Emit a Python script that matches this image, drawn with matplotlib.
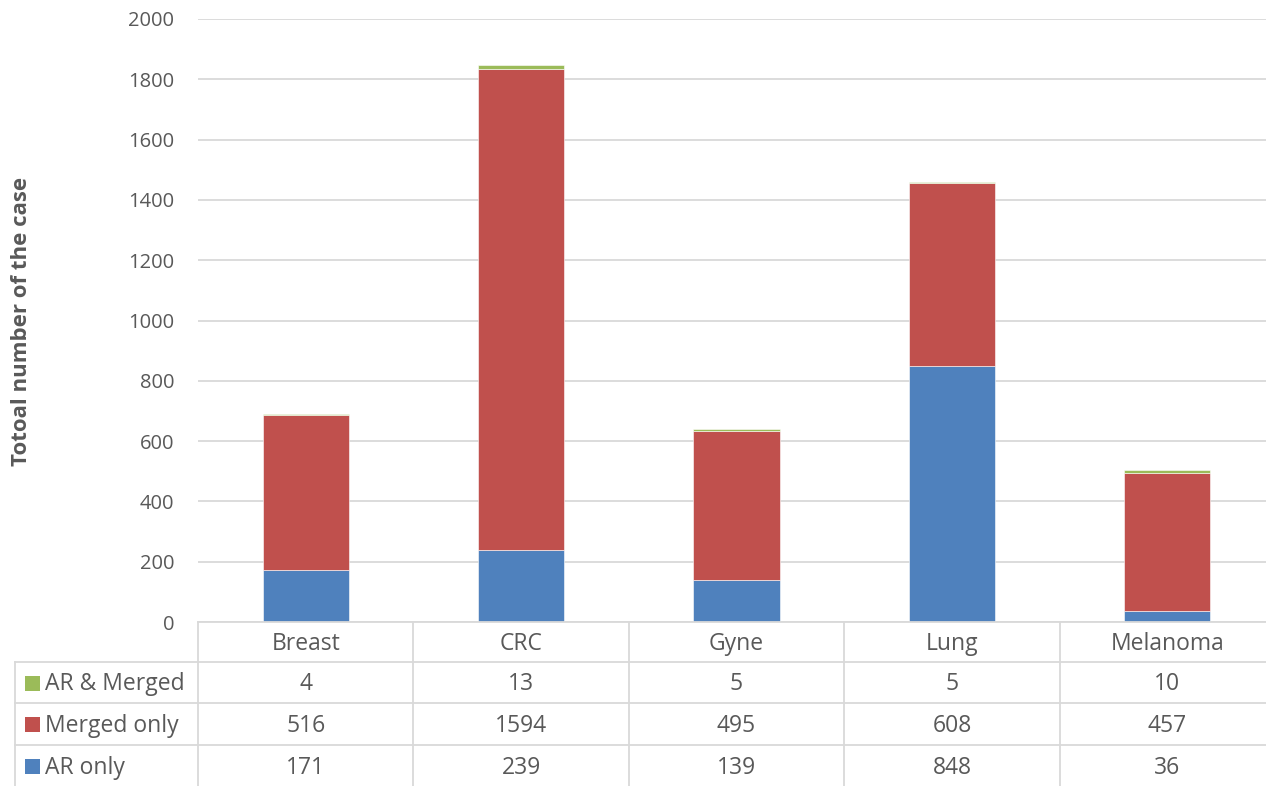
import matplotlib
matplotlib.use("Agg")
import matplotlib.pyplot as plt
import matplotlib.transforms as mtransforms
from matplotlib.lines import Line2D
from matplotlib.patches import Rectangle
import numpy as np

plt.rcParams['font.family'] = ['Open Sans', 'DejaVu Sans']

categories = ["Breast", "CRC", "Gyne", "Lung", "Melanoma"]
ar_only = [171, 239, 139, 848, 36]
merged_only = [516, 1594, 495, 608, 457]
ar_and_merged = [4, 13, 5, 5, 10]

series_names = ["AR & Merged", "Merged only", "AR only"]
colors = {"AR only": "#4f81bd", "Merged only": "#c0504d", "AR & Merged": "#9bbb59"}
text_color = "#595959"
grid_color = "#d9d9d9"
fs_table = 16.5
fs_tick = 14.5

W, H = 1266, 786
fig = plt.figure(figsize=(W / 100, H / 100), dpi=100)


def fx(x):
    return x / W


def fy(y):
    return 1 - y / H


# plot area in pixel coordinates
left, right, top, bottom = 198, 1275, 19, 622
ax = fig.add_axes([fx(left), fy(bottom), fx(right) - fx(left), fy(top) - fy(bottom)])

x = np.arange(len(categories))
bw = 0.4
ax.bar(x, ar_only, bw, color=colors["AR only"], edgecolor="white", linewidth=0.4, zorder=3)
ax.bar(x, merged_only, bw, bottom=ar_only, color=colors["Merged only"],
       edgecolor="white", linewidth=0.4, zorder=3)
base2 = np.array(ar_only) + np.array(merged_only)
ax.bar(x, ar_and_merged, bw, bottom=base2, color=colors["AR & Merged"],
       edgecolor="white", linewidth=0.4, zorder=3)

ax.set_xlim(-0.5, len(categories) - 0.5)
ax.set_ylim(0, 2000)
ax.set_yticks(range(0, 2001, 200))
ax.yaxis.grid(True, color=grid_color, linewidth=1.3, zorder=0)
ax.set_xticks([])
for s in ax.spines.values():
    s.set_visible(False)
ax.tick_params(axis="y", length=0, pad=17, labelsize=fs_tick, labelcolor=text_color)

fig.text(fx(22), fy(321), "Totoal number of the case", rotation=90, ha="center", va="center",
         fontsize=16, fontweight="bold", color=text_color)

# data table under the bars
blend = mtransforms.blended_transform_factory(ax.transData, fig.transFigure)
row_lines = [622, 662, 703, 745, 786]
row_mid = [(row_lines[i] + row_lines[i + 1]) / 2 + 2 for i in range(4)]
lw = 1.3

# horizontal lines
fig.add_artist(Line2D([fx(left), 1.05], [fy(622)] * 2, color=grid_color, lw=lw))
for yy in row_lines[1:4]:
    fig.add_artist(Line2D([fx(15), 1.05], [fy(yy)] * 2, color=grid_color, lw=lw))

# vertical lines
fig.add_artist(Line2D([fx(15)] * 2, [fy(662), fy(786)], color=grid_color, lw=lw))
for i in range(len(categories) + 1):
    fig.add_artist(Line2D([i - 0.5] * 2, [fy(622), fy(786)], transform=blend,
                          color=grid_color, lw=lw))

# header row with category names
for i, cat in enumerate(categories):
    fig.text(i, fy(row_mid[0]), cat, transform=blend, ha="center", va="center",
             fontsize=fs_table, color=text_color)

rows = {"AR & Merged": ar_and_merged, "Merged only": merged_only, "AR only": ar_only}
for r, name in enumerate(series_names):
    ym = row_mid[r + 1]
    fig.add_artist(Rectangle((fx(25), fy(ym + 6)), fx(15), fy(0) - fy(15),
                             facecolor=colors[name], edgecolor="none"))
    fig.text(fx(45), fy(ym), name, ha="left", va="center", fontsize=fs_table, color=text_color)
    for i, v in enumerate(rows[name]):
        fig.text(i, fy(ym), str(v), transform=blend, ha="center", va="center",
                 fontsize=fs_table, color=text_color)

fig.savefig("out.png", dpi=100)
